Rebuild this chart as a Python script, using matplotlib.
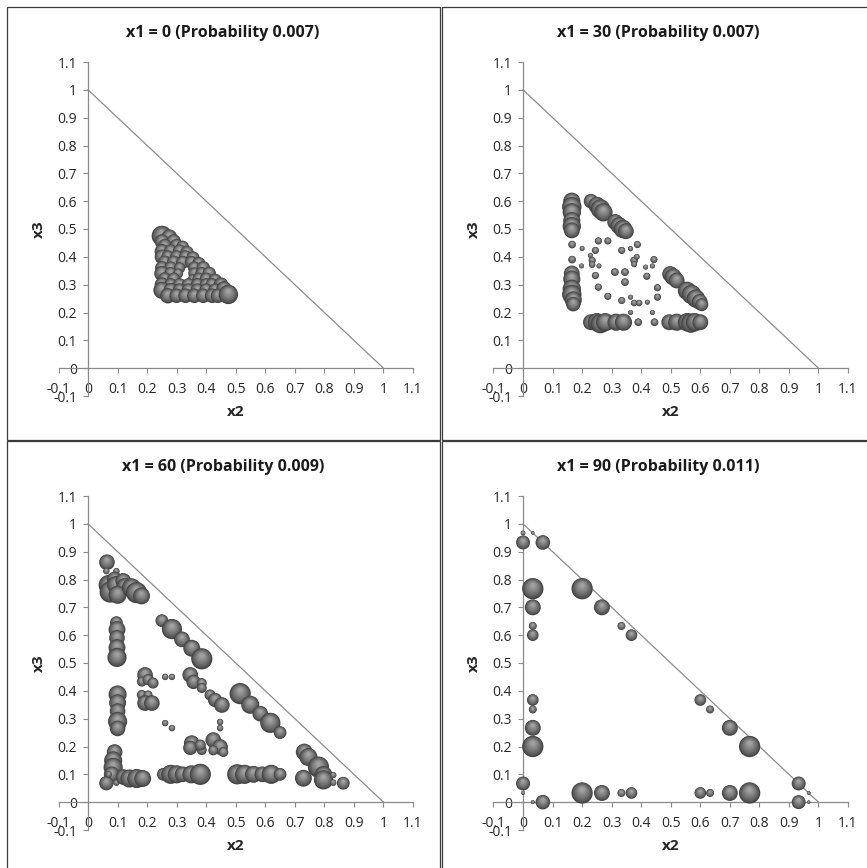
import numpy as np
import matplotlib
import matplotlib.pyplot as plt
from matplotlib.patches import Rectangle

plt.switch_backend("agg")
plt.rcParams["font.family"] = ["Open Sans", "DejaVu Sans"]

W_PX, H_PX, DPI = 867, 868, 100

TITLES = [
    "x1 = 0 (Probability 0.007)",
    "x1 = 30 (Probability 0.007)",
    "x1 = 60 (Probability 0.009)",
    "x1 = 90 (Probability 0.011)",
]
TICKS = [-0.1, 0, 0.1, 0.2, 0.3, 0.4, 0.5, 0.6, 0.7, 0.8, 0.9, 1, 1.1]
TICK_LABELS = ["-0.1", "0", "0.1", "0.2", "0.3", "0.4", "0.5", "0.6",
               "0.7", "0.8", "0.9", "1", "1.1"]

# (x2, x3, weight) for each state; bubble area is proportional to weight
P_X1_0 = [
    (0.250, 0.475, 0.50), (0.275, 0.470, 0.30), (0.250, 0.455, 0.25), (0.290, 0.455, 0.25),
    (0.260, 0.440, 0.22), (0.300, 0.440, 0.22), (0.320, 0.435, 0.20),
    (0.250, 0.420, 0.25), (0.280, 0.420, 0.22), (0.310, 0.420, 0.22), (0.335, 0.415, 0.22),
    (0.250, 0.400, 0.25), (0.270, 0.400, 0.20), (0.300, 0.400, 0.20), (0.330, 0.400, 0.20), (0.355, 0.395, 0.22),
    (0.260, 0.380, 0.22), (0.290, 0.380, 0.22), (0.320, 0.380, 0.20), (0.350, 0.380, 0.20), (0.375, 0.375, 0.22),
    (0.250, 0.360, 0.22), (0.280, 0.360, 0.20), (0.310, 0.360, 0.15), (0.360, 0.360, 0.20), (0.390, 0.360, 0.22),
    (0.250, 0.340, 0.28), (0.280, 0.340, 0.20), (0.305, 0.340, 0.12), (0.360, 0.340, 0.18), (0.385, 0.340, 0.20), (0.410, 0.340, 0.22),
    (0.260, 0.320, 0.22), (0.290, 0.320, 0.20), (0.355, 0.320, 0.12), (0.375, 0.320, 0.20), (0.400, 0.320, 0.20), (0.430, 0.315, 0.22),
    (0.250, 0.300, 0.25), (0.280, 0.300, 0.20), (0.310, 0.300, 0.20), (0.340, 0.300, 0.20), (0.370, 0.300, 0.20),
    (0.400, 0.300, 0.20), (0.420, 0.300, 0.20), (0.450, 0.300, 0.25),
    (0.250, 0.280, 0.35), (0.280, 0.280, 0.25), (0.310, 0.280, 0.22), (0.340, 0.280, 0.22), (0.370, 0.280, 0.22),
    (0.400, 0.280, 0.22), (0.430, 0.280, 0.22), (0.460, 0.285, 0.28),
    (0.270, 0.260, 0.28), (0.300, 0.260, 0.25), (0.330, 0.260, 0.25), (0.360, 0.260, 0.25), (0.390, 0.260, 0.25),
    (0.420, 0.260, 0.25), (0.440, 0.260, 0.25), (0.475, 0.265, 0.45),
]

P_X1_30 = [
    (0.165, 0.600, 0.35), (0.165, 0.580, 0.45), (0.165, 0.560, 0.40), (0.165, 0.530, 0.35), (0.165, 0.510, 0.40),
    (0.165, 0.495, 0.30),
    (0.230, 0.600, 0.25), (0.250, 0.585, 0.35), (0.262, 0.572, 0.45), (0.272, 0.560, 0.40),
    (0.312, 0.525, 0.30), (0.325, 0.512, 0.35), (0.338, 0.500, 0.40), (0.348, 0.492, 0.30),
    (0.165, 0.340, 0.30), (0.165, 0.320, 0.35), (0.165, 0.285, 0.40), (0.165, 0.265, 0.45), (0.170, 0.245, 0.35),
    (0.170, 0.230, 0.25),
    (0.230, 0.165, 0.30), (0.250, 0.165, 0.40), (0.262, 0.160, 0.45), (0.278, 0.165, 0.40), (0.315, 0.165, 0.35),
    (0.340, 0.165, 0.35), (0.390, 0.165, 0.07), (0.445, 0.165, 0.07),
    (0.495, 0.165, 0.30), (0.520, 0.165, 0.35), (0.555, 0.165, 0.40), (0.568, 0.162, 0.45), (0.582, 0.165, 0.40),
    (0.600, 0.165, 0.30),
    (0.498, 0.338, 0.30), (0.508, 0.328, 0.35), (0.520, 0.315, 0.30), (0.555, 0.278, 0.40), (0.570, 0.265, 0.45),
    (0.585, 0.250, 0.40), (0.598, 0.238, 0.30), (0.605, 0.228, 0.20),
    (0.166, 0.444, 0.07), (0.200, 0.430, 0.03), (0.255, 0.457, 0.06), (0.287, 0.457, 0.06), (0.245, 0.423, 0.06),
    (0.228, 0.405, 0.03), (0.234, 0.387, 0.06), (0.234, 0.372, 0.05), (0.198, 0.367, 0.03), (0.257, 0.367, 0.03),
    (0.166, 0.390, 0.07), (0.245, 0.333, 0.06), (0.255, 0.291, 0.06), (0.287, 0.258, 0.06), (0.311, 0.345, 0.07),
    (0.345, 0.345, 0.07), (0.345, 0.309, 0.07), (0.334, 0.423, 0.06), (0.364, 0.429, 0.03), (0.387, 0.444, 0.06),
    (0.376, 0.387, 0.07), (0.385, 0.400, 0.04), (0.376, 0.373, 0.04), (0.415, 0.363, 0.03), (0.438, 0.367, 0.03),
    (0.443, 0.390, 0.06), (0.419, 0.330, 0.06), (0.455, 0.289, 0.06), (0.455, 0.255, 0.06), (0.334, 0.243, 0.06),
    (0.364, 0.255, 0.03), (0.376, 0.234, 0.05), (0.393, 0.234, 0.05), (0.421, 0.237, 0.03), (0.364, 0.200, 0.03),
    (0.438, 0.200, 0.03),
]

P_X1_60 = [
    (0.064, 0.862, 0.30), (0.062, 0.830, 0.05), (0.096, 0.830, 0.05),
    (0.070, 0.780, 0.50), (0.075, 0.755, 0.55), (0.090, 0.800, 0.30), (0.095, 0.780, 0.40),
    (0.119, 0.795, 0.30), (0.125, 0.775, 0.35), (0.100, 0.745, 0.40),
    (0.147, 0.770, 0.45), (0.164, 0.753, 0.55), (0.181, 0.741, 0.35),
    (0.096, 0.645, 0.20), (0.098, 0.620, 0.35), (0.098, 0.590, 0.30), (0.098, 0.555, 0.35), (0.098, 0.520, 0.45),
    (0.100, 0.387, 0.40), (0.100, 0.357, 0.35), (0.100, 0.327, 0.30), (0.100, 0.290, 0.45), (0.100, 0.265, 0.30),
    (0.090, 0.180, 0.30), (0.085, 0.150, 0.40), (0.085, 0.125, 0.45), (0.080, 0.100, 0.30),
    (0.062, 0.068, 0.25), (0.096, 0.070, 0.05), (0.070, 0.100, 0.05),
    (0.120, 0.090, 0.30), (0.140, 0.085, 0.40), (0.165, 0.085, 0.45), (0.185, 0.085, 0.35),
    (0.255, 0.100, 0.20), (0.280, 0.100, 0.45), (0.300, 0.100, 0.40), (0.320, 0.100, 0.30),
    (0.350, 0.100, 0.40), (0.380, 0.100, 0.55),
    (0.505, 0.100, 0.50), (0.530, 0.100, 0.45), (0.560, 0.100, 0.35), (0.590, 0.100, 0.30),
    (0.620, 0.100, 0.45), (0.650, 0.100, 0.20),
    (0.732, 0.180, 0.35), (0.746, 0.162, 0.40), (0.780, 0.126, 0.55), (0.797, 0.097, 0.40),
    (0.729, 0.086, 0.35), (0.797, 0.080, 0.45), (0.830, 0.097, 0.05), (0.830, 0.070, 0.05), (0.864, 0.068, 0.20),
    (0.250, 0.652, 0.20), (0.284, 0.622, 0.50), (0.318, 0.585, 0.30), (0.351, 0.553, 0.35), (0.385, 0.515, 0.55),
    (0.515, 0.390, 0.55), (0.549, 0.350, 0.40), (0.583, 0.318, 0.30), (0.617, 0.285, 0.50), (0.650, 0.250, 0.20),
    (0.193, 0.457, 0.30), (0.182, 0.433, 0.12), (0.203, 0.440, 0.15), (0.220, 0.428, 0.15), (0.182, 0.385, 0.12),
    (0.203, 0.385, 0.10), (0.193, 0.356, 0.30), (0.216, 0.356, 0.30),
    (0.261, 0.450, 0.05), (0.284, 0.450, 0.05),
    (0.346, 0.457, 0.30), (0.357, 0.432, 0.25), (0.385, 0.428, 0.12), (0.385, 0.410, 0.12),
    (0.413, 0.385, 0.15), (0.430, 0.367, 0.25), (0.453, 0.349, 0.30),
    (0.261, 0.284, 0.05), (0.284, 0.266, 0.05), (0.447, 0.288, 0.05), (0.447, 0.266, 0.05),
    (0.351, 0.212, 0.30), (0.346, 0.195, 0.25), (0.385, 0.187, 0.12), (0.380, 0.205, 0.15),
    (0.424, 0.223, 0.30), (0.447, 0.198, 0.30), (0.424, 0.186, 0.12), (0.458, 0.180, 0.12),
]

P_X1_90 = [
    (0.000, 0.967, 0.05), (0.033, 0.967, 0.025), (0.000, 0.933, 0.43), (0.067, 0.933, 0.47),
    (0.033, 0.767, 1.00), (0.033, 0.700, 0.56), (0.033, 0.633, 0.14), (0.033, 0.600, 0.30),
    (0.200, 0.767, 1.00), (0.267, 0.700, 0.56), (0.333, 0.633, 0.14), (0.367, 0.600, 0.30),
    (0.600, 0.367, 0.30), (0.633, 0.333, 0.14), (0.700, 0.267, 0.56), (0.767, 0.200, 1.00),
    (0.033, 0.367, 0.30), (0.033, 0.333, 0.14), (0.033, 0.267, 0.56), (0.033, 0.200, 1.00),
    (0.000, 0.067, 0.43), (0.000, 0.033, 0.035), (0.033, 0.000, 0.035), (0.067, 0.000, 0.47),
    (0.200, 0.033, 1.00), (0.267, 0.033, 0.56), (0.333, 0.033, 0.14), (0.367, 0.033, 0.30),
    (0.600, 0.033, 0.30), (0.633, 0.033, 0.14), (0.700, 0.033, 0.56), (0.767, 0.033, 1.00),
    (0.933, 0.067, 0.43), (0.967, 0.033, 0.03), (0.933, 0.000, 0.43), (0.967, 0.000, 0.025),
]

PANELS = [P_X1_0, P_X1_30, P_X1_60, P_X1_90]

S_MAX = 235.0      # marker area (pt^2) for weight 1.0
# each chart scales its bubbles on its own, as a spreadsheet bubble chart does
BUBBLE_SCALE = [1.85, 1.85, 1.8, 1.0]
N_LAYERS = 10


def px_box(left, top, right, bottom):
    """pixel box (top-left origin) -> figure fraction [l, b, w, h]"""
    return [left / W_PX, 1 - bottom / H_PX, (right - left) / W_PX, (bottom - top) / H_PX]


def draw_bubbles(ax, data, scale):
    pts = np.array(data)
    x, y, w = pts[:, 0], pts[:, 1], pts[:, 2]
    pos = ax.get_position()
    ydata_per_px = 1.2 / (pos.height * H_PX)
    xs, ys, ss, cs = [], [], [], []
    for xi, yi, wi in zip(x, y, w):
        d_pt = np.sqrt(wi * scale * S_MAX)
        r_px = d_pt / 2 * DPI / 72
        for k in range(N_LAYERS):
            t = k / (N_LAYERS - 1)
            ratio = 1 - 0.8 * t
            g = 0.26 + 0.37 * t ** 0.8
            xs.append(xi)
            ys.append(yi + (1 - ratio) * r_px * 0.4 * ydata_per_px)
            ss.append((d_pt * ratio) ** 2)
            cs.append((g, g, g))
    ax.scatter(xs, ys, s=ss, c=cs, linewidths=0, zorder=3, clip_on=False)


def style_axes(ax):
    ax.set_xlim(-0.1, 1.1)
    ax.set_ylim(-0.1, 1.1)
    for side in ("top", "right"):
        ax.spines[side].set_visible(False)
    ax.spines["left"].set_position(("data", 0))
    ax.spines["bottom"].set_position(("data", 0))
    for side in ("left", "bottom"):
        ax.spines[side].set_color("#8a8a8a")
        ax.spines[side].set_linewidth(0.9)
    ax.set_xticks(TICKS)
    ax.set_xticklabels(TICK_LABELS)
    ax.set_yticks(TICKS)
    ax.set_yticklabels(TICK_LABELS)
    ax.tick_params(axis="both", direction="out", length=3.3, width=0.8, color="#8a8a8a",
                   labelsize=10, labelcolor="#262626")
    ax.tick_params(axis="x", pad=6.5)
    ax.tick_params(axis="y", pad=4.5)
    ax.set_xlabel("x2", fontsize=11, fontweight="bold", color="#262626")
    ax.set_ylabel("x3", fontsize=11, fontweight="bold", color="#262626")
    ax.xaxis.set_label_coords(0.5, -0.026)
    ax.yaxis.set_label_coords(-0.036, 0.5)
    ax.patch.set_alpha(0)


fig = plt.figure(figsize=(W_PX / DPI, H_PX / DPI), dpi=DPI)
fig.patch.set_facecolor("white")

offsets = [(0, 0), (435, 0), (0, 434), (435, 434)]
for i, (dx, dy) in enumerate(offsets):
    fig.add_artist(Rectangle(((6.5 + dx) / W_PX, 1 - (439.5 + dy) / H_PX),
                             433.5 / W_PX, 433 / H_PX, transform=fig.transFigure,
                             fill=False, edgecolor="#3c3c3c", linewidth=0.9))
    ax = fig.add_axes(px_box(58.5 + dx, 62 + dy, 413 + dx, 396 + dy))
    style_axes(ax)
    ax.plot([0, 1], [1, 0], color="#8c8c8c", linewidth=0.9, zorder=2)
    draw_bubbles(ax, PANELS[i], BUBBLE_SCALE[i])
    fig.text((223 + dx) / W_PX, 1 - (33 + dy) / H_PX, TITLES[i], ha="center", va="center",
             fontsize=11.5, fontweight="bold", color="#1a1a1a")

fig.savefig("out.png", dpi=DPI, facecolor="white")
